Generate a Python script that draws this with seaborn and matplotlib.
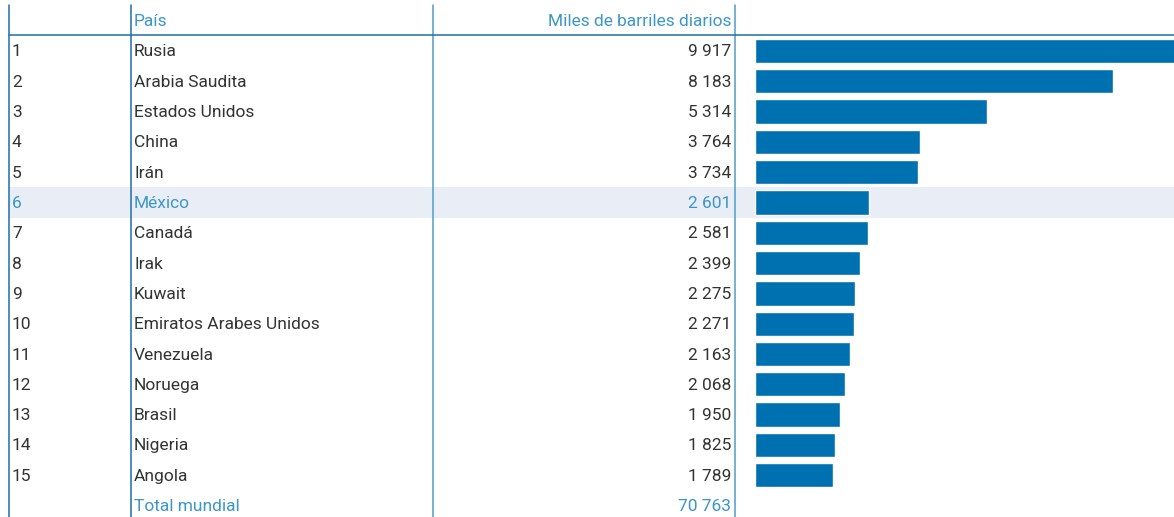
import pandas as pd
import matplotlib.pyplot as plt
import seaborn as sns

# ==========================================
# Datos
# ==========================================
ranks = [str(i) for i in range(1, 16)]
paises = ['Rusia', 'Arabia Saudita', 'Estados Unidos', 'China', 'Irán', 'México',
          'Canadá', 'Irak', 'Kuwait', 'Emiratos Arabes Unidos', 'Venezuela',
          'Noruega', 'Brasil', 'Nigeria', 'Angola']
barriles = [9917, 8183, 5314, 3764, 3734, 2601, 2581, 2399, 2275, 2271,
            2163, 2068, 1950, 1825, 1789]
total_mundial = 70763
destacado = 'México'

df = pd.DataFrame({'Rank': ranks, 'País': paises, 'Miles': barriles})

# ==========================================
# Estilo
# ==========================================
sns.set_theme(style="white")
plt.rcParams['font.family'] = ['Roboto', 'DejaVu Sans']

BAR_COLOR = '#0071b0'
DARK_LINE = '#1f6ea8'
LIGHT_LINE = '#4f9ccc'
HEAD_COLOR = '#3b96c9'
TEXT_COLOR = '#333333'
HIGHLIGHT_BG = '#e9eef6'

W, H = 1174, 517
fig = plt.figure(figsize=(W / 100, H / 100), dpi=100)

# ejes de tabla en coordenadas de pixel
ax = fig.add_axes([0, 0, 1, 1])
ax.set_xlim(0, W)
ax.set_ylim(H, 0)
ax.axis('off')

row0, step = 51, 30.3
row_y = [row0 + step * i for i in range(len(paises))]
total_y = row0 + step * len(paises)
dy = 1  # ajuste vertical del texto

# fila destacada
i_hl = paises.index(destacado)
ax.fill_between([9, W], row_y[i_hl] - step / 2, row_y[i_hl] + step / 2,
                color=HIGHLIGHT_BG, lw=0, zorder=0)

# líneas
ax.plot([9, 9], [5, H], color=DARK_LINE, lw=1.1)
ax.plot([131, 131], [5, H], color=DARK_LINE, lw=1.1)
ax.plot([433, 433], [5, H], color=LIGHT_LINE, lw=1.1)
ax.plot([735, 735], [5, H], color=LIGHT_LINE, lw=1.1)
ax.plot([9, W], [35, 35], color=DARK_LINE, lw=1.1)

fs = 12.5
ax.text(134, 20 + dy, 'País', color=HEAD_COLOR, fontsize=fs,
        va='center', ha='left')
ax.text(731, 20 + dy, 'Miles de barriles diarios', color=HEAD_COLOR, fontsize=fs,
        va='center', ha='right')

for r, p, v, y in zip(df['Rank'], df['País'], df['Miles'], row_y):
    c = HEAD_COLOR if p == destacado else TEXT_COLOR
    ax.text(12, y + dy, r, color=c, fontsize=fs, va='center', ha='left')
    ax.text(134, y + dy, p, color=c, fontsize=fs, va='center', ha='left')
    ax.text(731, y + dy, f'{v:,}'.replace(',', ' '), color=c, fontsize=fs,
            va='center', ha='right')

ax.text(134, total_y + dy, 'Total mundial', color=HEAD_COLOR, fontsize=fs,
        va='center', ha='left')
ax.text(731, total_y + dy, f'{total_mundial:,}'.replace(',', ' '), color=HEAD_COLOR,
        fontsize=fs, va='center', ha='right')

# ==========================================
# Barras
# ==========================================
x0 = 755
top = row_y[0] - step / 2
bottom = row_y[-1] + step / 2
axb = fig.add_axes([x0 / W, 1 - bottom / H, (W - x0) / W, (bottom - top) / H])
axb.patch.set_alpha(0)
sns.barplot(data=df, x='Miles', y='País', orient='h', color=BAR_COLOR,
            width=0.8, saturation=1, ax=axb)
px_per_unit = 0.04375
axb.set_xlim(0, (W - x0) / px_per_unit)
axb.set_ylim(len(paises) - 0.5, -0.5)
axb.axis('off')

plt.savefig('out.png', dpi=100)
